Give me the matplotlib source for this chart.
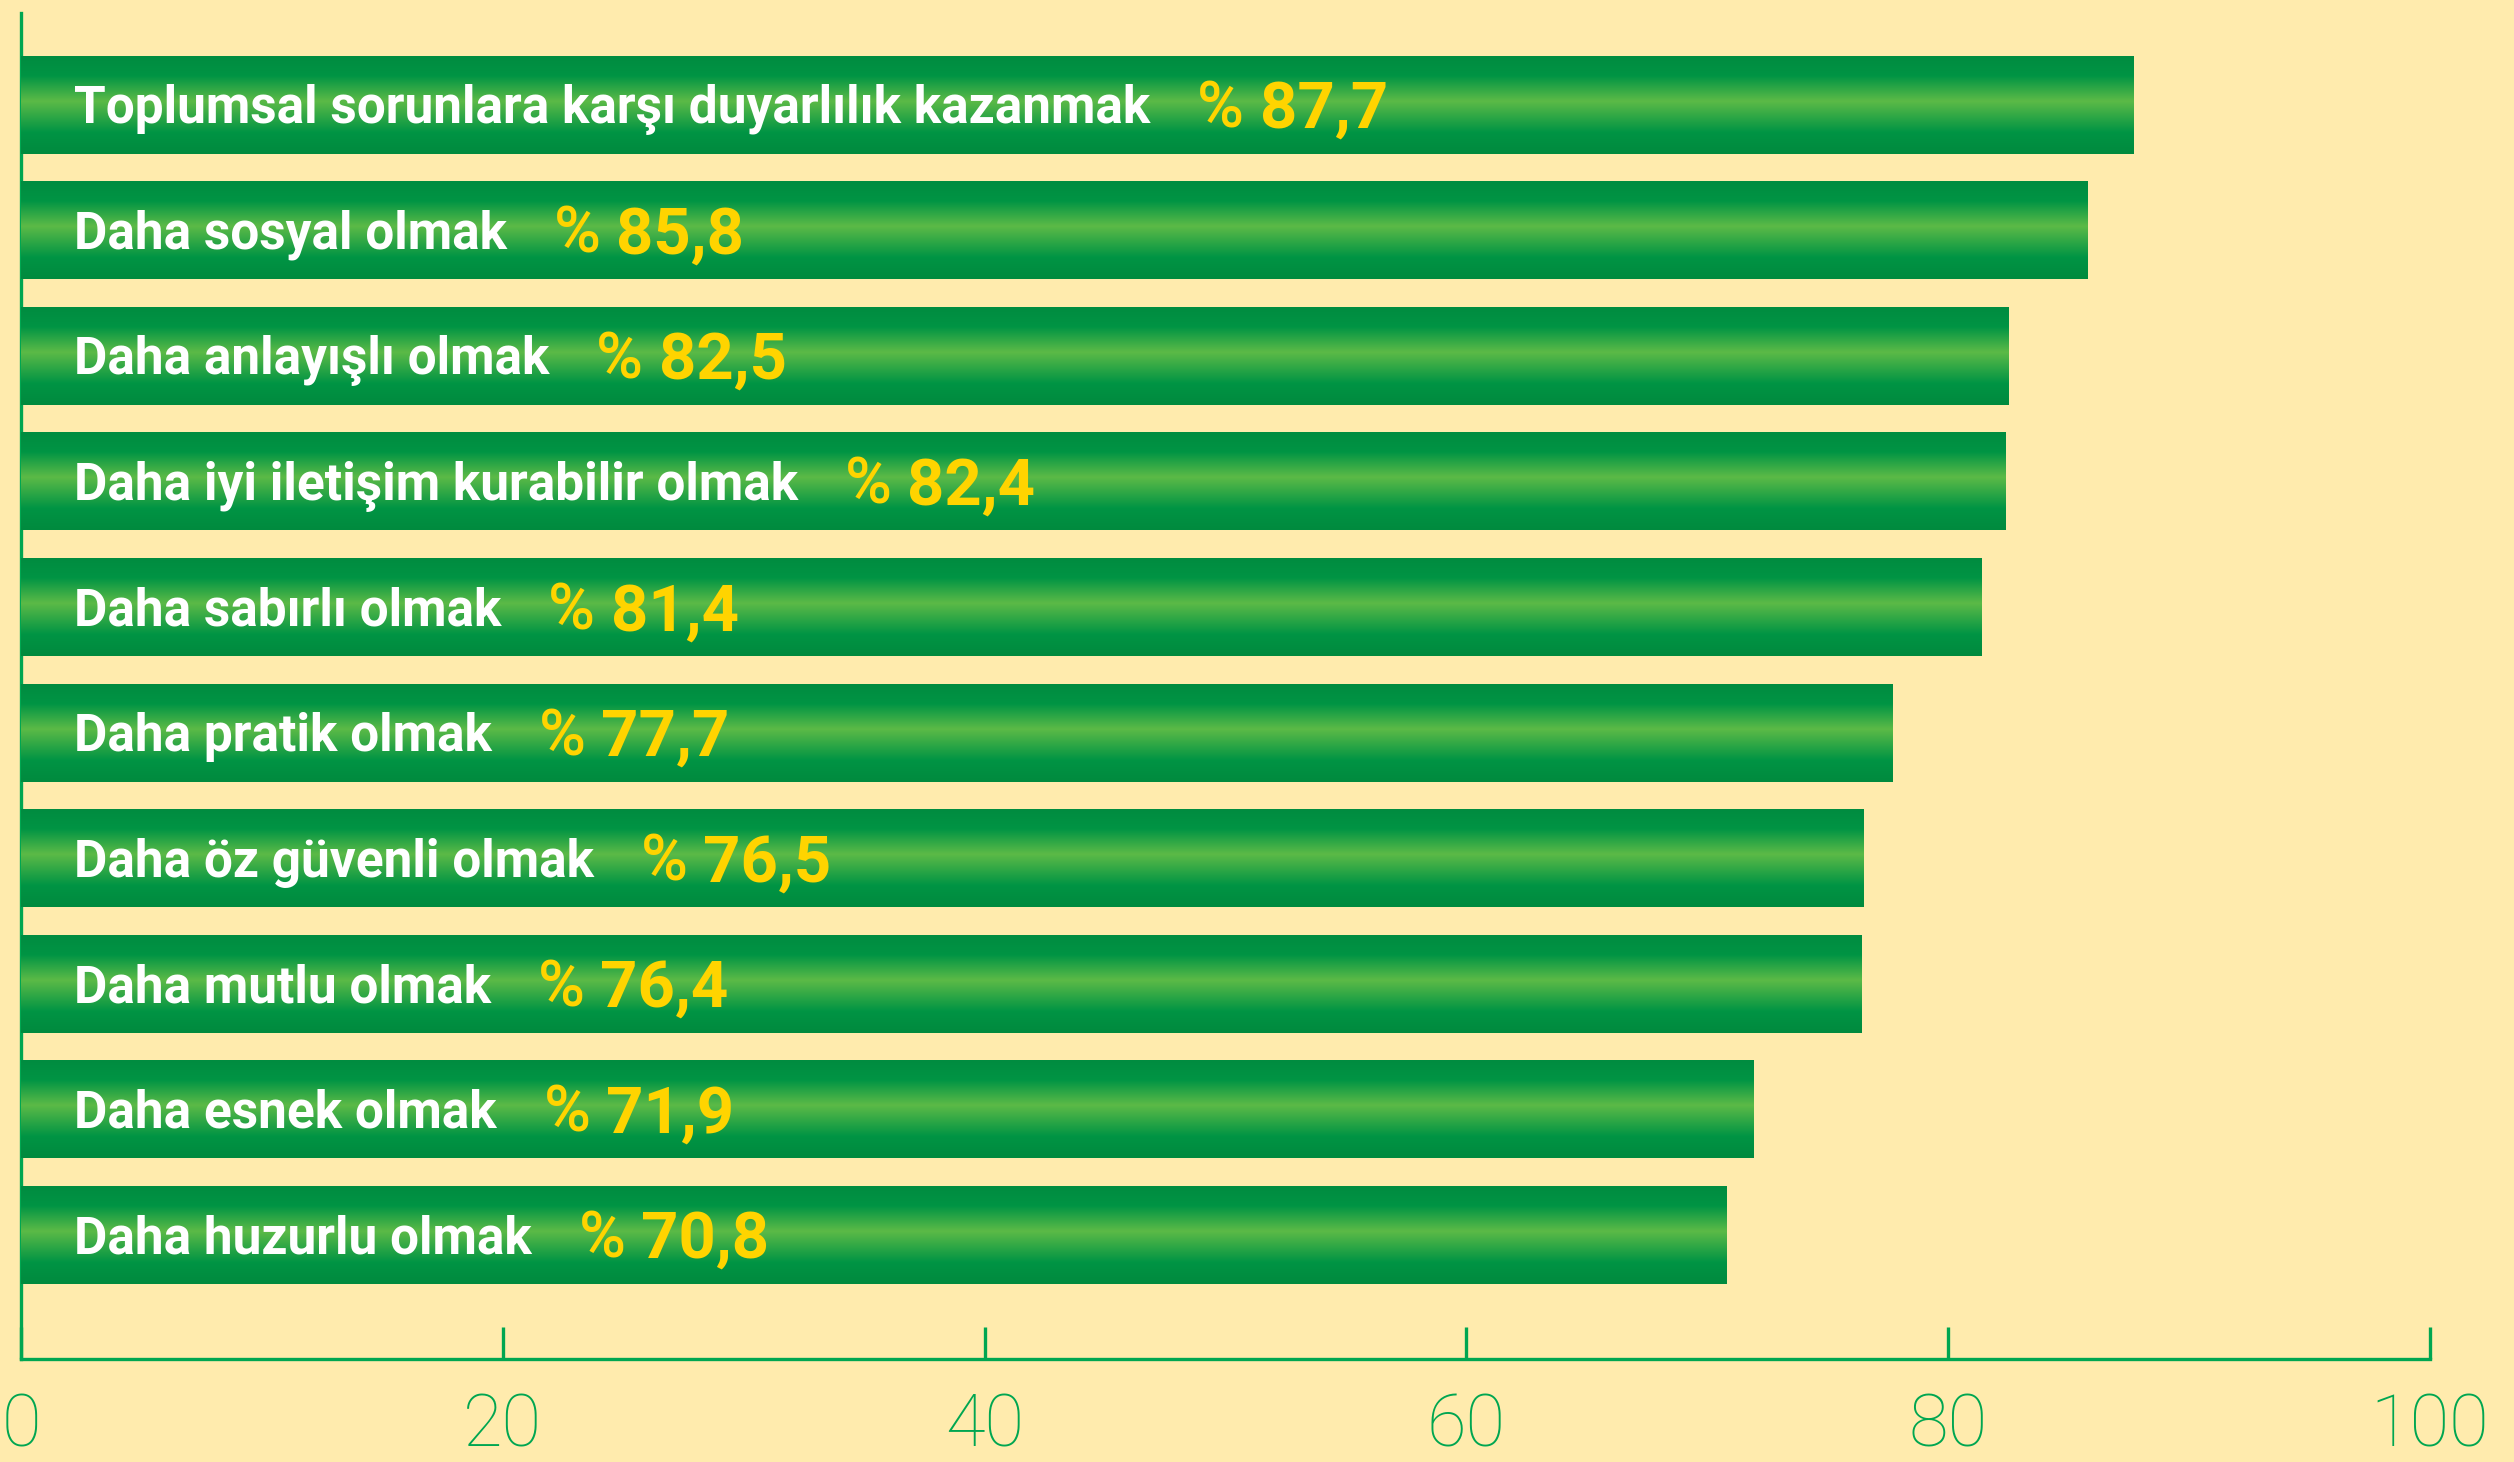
import numpy as np
import matplotlib.pyplot as plt
from matplotlib.colors import LinearSegmentedColormap

# data
categories = [
    "Toplumsal sorunlara karşı duyarlılık kazanmak",
    "Daha sosyal olmak",
    "Daha anlayışlı olmak",
    "Daha iyi iletişim kurabilir olmak",
    "Daha sabırlı olmak",
    "Daha pratik olmak",
    "Daha öz güvenli olmak",
    "Daha mutlu olmak",
    "Daha esnek olmak",
    "Daha huzurlu olmak",
]
values = [87.7, 85.8, 82.5, 82.4, 81.4, 77.7, 76.5, 76.4, 71.9, 70.8]
value_labels = ["87,7", "85,8", "82,5", "82,4", "81,4",
                "77,7", "76,5", "76,4", "71,9", "70,8"]
xticks = [0, 20, 40, 60, 80, 100]

BG = "#FFEBAD"
GREEN_AXIS = "#00A651"
YELLOW = "#FFD400"

fig = plt.figure(figsize=(25.14, 14.62), dpi=100, facecolor=BG)
ax = fig.add_axes([0.00835, 0.0705, 0.9582, 0.9205])
ax.set_facecolor(BG)

y = np.arange(len(categories))
bars = ax.barh(y, values, height=0.78, color="#009245", edgecolor="none", zorder=2)

# vertical gradient: dark green at the edges, light green in the middle
grad_cmap = LinearSegmentedColormap.from_list(
    "bar_grad",
    [(0.0, "#008C40"), (0.2, "#009444"), (0.46, "#5CBA47"),
     (0.78, "#009444"), (1.0, "#008A3E")])
grad = np.linspace(0, 1, 256).reshape(-1, 1)
for bar in bars:
    x0, y0 = bar.get_x(), bar.get_y()
    w, h = bar.get_width(), bar.get_height()
    im = ax.imshow(grad, cmap=grad_cmap, aspect="auto", interpolation="bicubic",
                   extent=(x0, x0 + w, y0 + h, y0), zorder=3)
    im.set_clip_path(bar)

ax.set_xlim(0, 100)
ax.set_ylim(9.987, -0.729)

# labels inside bars, then "% value" right after each label
for i, (cat, lab) in enumerate(zip(categories, value_labels)):
    t = ax.annotate(cat, xy=(0, i), xytext=(38, -13.3), textcoords="offset points",
                    ha="left", va="baseline", color="white", fontsize=37,
                    fontweight="bold", family="Roboto", zorder=5)
    pct = ax.annotate("%", xy=(1, i), xycoords=(t, "data"), xytext=(34, -16.2),
                      textcoords="offset points", ha="left", va="baseline",
                      color=YELLOW, fontsize=46, fontweight="medium",
                      family="Roboto", zorder=5)
    ax.annotate(lab, xy=(1, i), xycoords=(pct, "data"), xytext=(11, -16.6),
                textcoords="offset points", ha="left", va="baseline",
                color=YELLOW, fontsize=47, fontweight="bold",
                family="Roboto", zorder=5)

for side in ["top", "right"]:
    ax.spines[side].set_visible(False)
for side in ["left", "bottom"]:
    ax.spines[side].set_color(GREEN_AXIS)
    ax.spines[side].set_linewidth(2.4)

ax.set_yticks([])
ax.set_xticks(xticks)
ax.set_xticklabels([str(v) for v in xticks], family="Roboto", fontweight="light",
                   fontsize=52, color=GREEN_AXIS)
ax.tick_params(axis="x", direction="in", length=23, width=2.4, color=GREEN_AXIS, pad=24)
for lab in ax.get_xticklabels():
    lab.set_clip_on(False)

fig.savefig("out.png", dpi=100, facecolor=BG)
